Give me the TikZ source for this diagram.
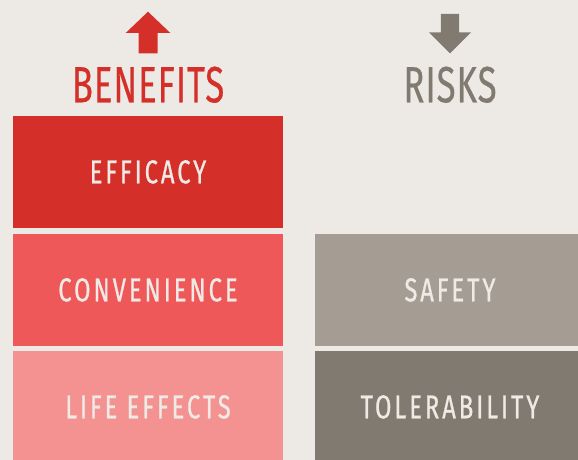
\documentclass[tikz,border=0pt]{standalone}
\usepackage{fontspec}
\setmainfont{Fira Sans}
\newfontfamily\titlefont[FakeStretch=0.68,LetterSpace=2,FakeBold=0.4]{Fira Sans}
\newfontfamily\boxfont[FakeStretch=0.72,LetterSpace=9,FakeBold=0.7]{Fira Sans}
\usetikzlibrary{positioning}
\definecolor{paper}{HTML}{EDEAE6}
\definecolor{efficacyred}{HTML}{D42F29}
\definecolor{convenred}{HTML}{EF5858}
\definecolor{lifered}{HTML}{F39291}
\definecolor{safetygray}{HTML}{A59D94}
\definecolor{tolergray}{HTML}{817A70}
\definecolor{boxtext}{HTML}{F0EAE6}
\tikzstyle{factor}=[rectangle,minimum width=270pt,minimum height=111.5pt,inner sep=0pt,text=boxtext,font=\boxfont\fontsize{33}{33}\selectfont,text height=23pt,text depth=0pt]
\tikzstyle{heading}=[anchor=base,font=\titlefont\fontsize{51}{51}\selectfont]

\begin{document}
\begin{tikzpicture}[x=1pt,y=-1pt]

\fill[paper] (0,0) rectangle (578,460);
\useasboundingbox (0,0) rectangle (578,460);

%benefits
    \def\cx{148};
    \foreach \pos/\name/\col/\label in {{(\cx,171.8)/efficacy/efficacyred/EFFICACY}, {(\cx,289.8)/convenience/convenred/CONVENIENCE}, {(\cx,406.8)/life/lifered/LIFE EFFECTS}}
        \node[factor, fill=\col] (\name) at \pos {\label};
\node[heading, text=efficacyred] (benefits) at (\cx,102.3) {BENEFITS};
\fill[efficacyred] (\cx,11.7) -- (\cx+22.3,33) -- (\cx+9.5,33) -- (\cx+9.5,53.3) -- (\cx-9.5,53.3) -- (\cx-9.5,33) -- (\cx-22.3,33) -- cycle;

%risks
    \def\cx{450};
    \foreach \pos/\name/\col/\label in {{(\cx,289.8)/safety/safetygray/SAFETY}, {(\cx,406.8)/tolerability/tolergray/TOLERABILITY}}
        \node[factor, fill=\col] (\name) at \pos {\label};
\node[heading, text=tolergray] (risks) at (\cx,102.3) {RISKS};
\fill[tolergray] (\cx,53.3) -- (\cx+21,32.3) -- (\cx+9.2,32.3) -- (\cx+9.2,14) -- (\cx-9.2,14) -- (\cx-9.2,32.3) -- (\cx-21,32.3) -- cycle;

\end{tikzpicture}
\end{document}
